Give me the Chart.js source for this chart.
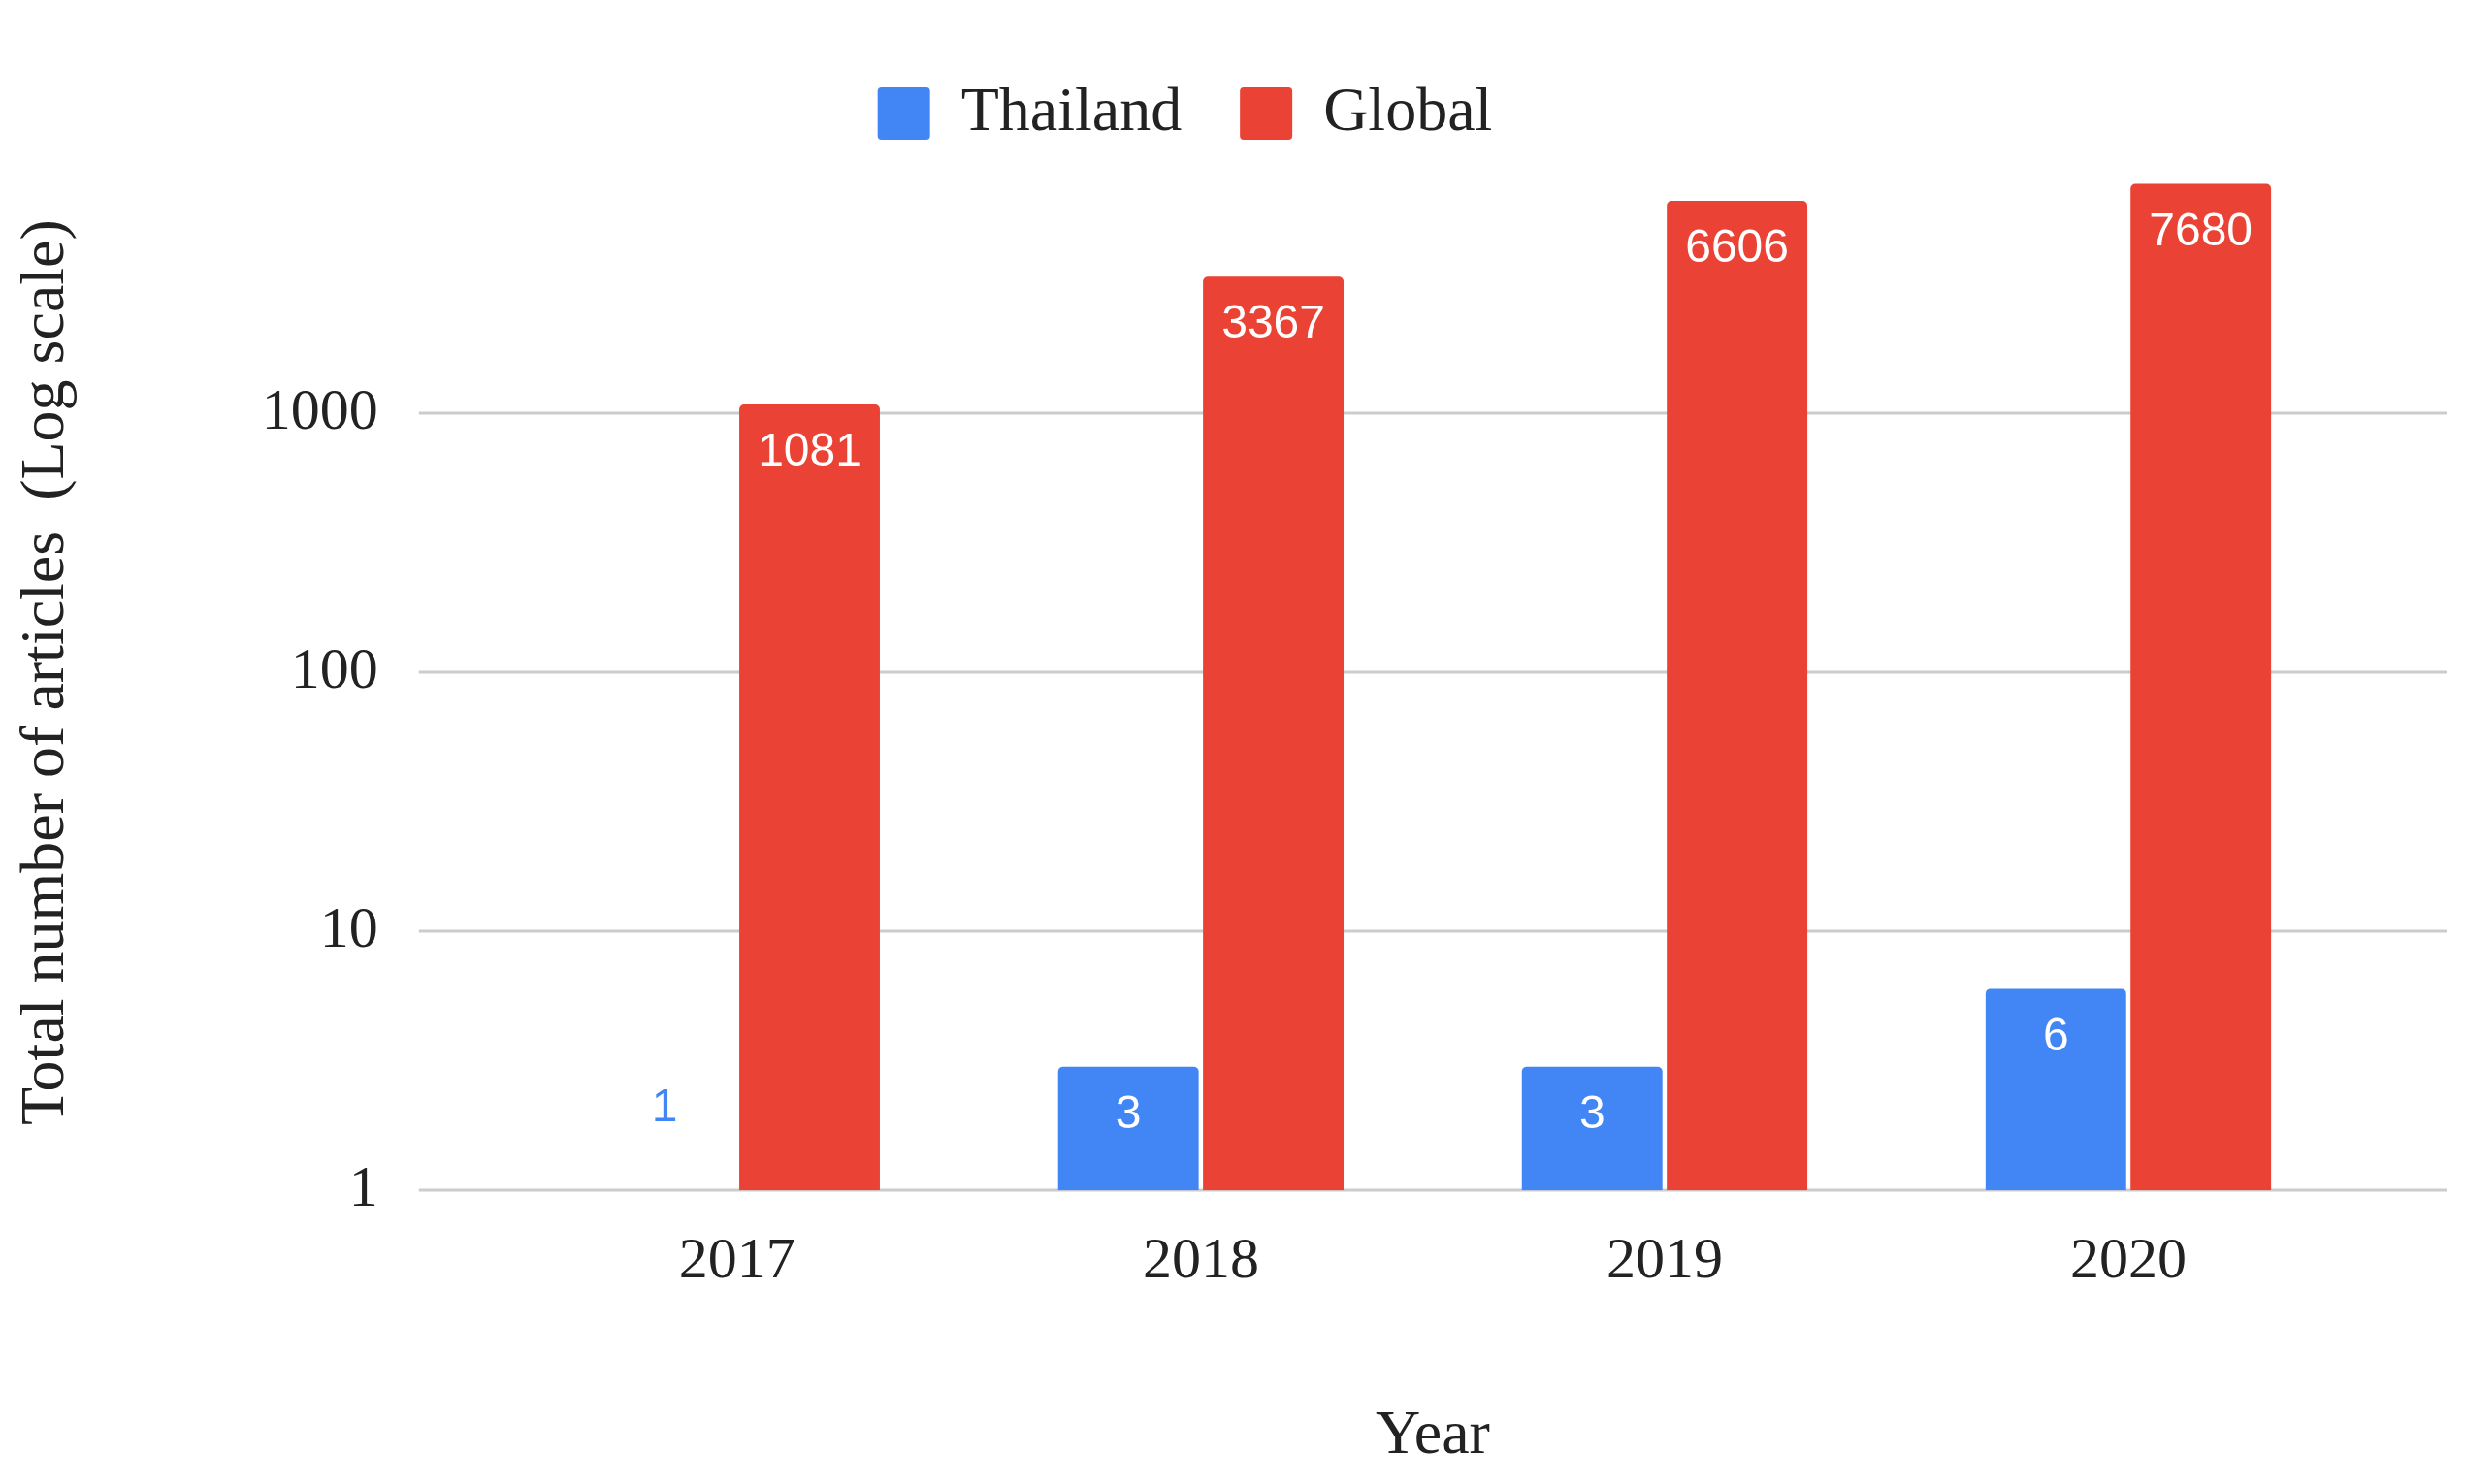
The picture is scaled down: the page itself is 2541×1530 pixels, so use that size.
<!DOCTYPE html>
<html>
<head>
<meta charset="utf-8">
<script src="https://cdn.jsdelivr.net/npm/chart.js@4"></script>
<style>
  html, body { margin: 0; padding: 0; background: #fff; }
  #wrap { width: 2541px; height: 1530px; }
</style>
</head>
<body>
<div id="wrap"><canvas id="barChart"></canvas></div>
<script>
const years = ["2017", "2018", "2019", "2020"];
const thailand = [1, 3, 3, 6];
const global = [1081, 3367, 6606, 7680];
const yTicks = [1, 10, 100, 1000];

const serif = "'Liberation Serif', 'Times New Roman', serif";

// horizontal grid lines reach a little past the bars on both sides
const wideGrid = {
  id: "wideGrid",
  beforeDatasetsDraw(chart) {
    const ctx = chart.ctx;
    const area = chart.chartArea;
    const y = chart.scales.y;
    ctx.save();
    ctx.strokeStyle = "#cccccc";
    ctx.lineWidth = 3;
    yTicks.forEach((v) => {
      const py = Math.round(y.getPixelForValue(v));
      ctx.beginPath();
      ctx.moveTo(area.left - 89, py);
      ctx.lineTo(area.right + 89, py);
      ctx.stroke();
    });
    ctx.restore();
  },
};

// value labels drawn near the top of each bar
const valueLabels = {
  id: "valueLabels",
  afterDatasetsDraw(chart) {
    const ctx = chart.ctx;
    ctx.save();
    ctx.font = "48px 'Liberation Sans', Arial, sans-serif";
    ctx.textAlign = "center";
    ctx.textBaseline = "middle";
    chart.data.datasets.forEach((ds, i) => {
      chart.getDatasetMeta(i).data.forEach((bar, j) => {
        const v = ds.data[j];
        if (bar.base - bar.y < 10) {
          ctx.fillStyle = ds.backgroundColor;
          ctx.fillText(v, bar.x, bar.base - 84);
        } else {
          ctx.fillStyle = "#ffffff";
          ctx.fillText(v, bar.x, bar.y + 50);
        }
      });
    });
    ctx.restore();
  },
};

const ctx = document.getElementById("barChart").getContext("2d");
new Chart(ctx, {
  type: "bar",
  data: {
    labels: years,
    datasets: [
      { label: "Thailand", data: thailand, backgroundColor: "#4285f4", borderRadius: 5, borderSkipped: "bottom" },
      { label: "Global", data: global, backgroundColor: "#ea4335", borderRadius: 5, borderSkipped: "bottom" },
    ],
  },
  options: {
    responsive: true,
    maintainAspectRatio: false,
    animation: false,
    layout: { padding: { top: 10, right: 108, bottom: 10, left: 10 } },
    categoryPercentage: 0.625,
    barPercentage: 0.97,
    scales: {
      x: {
        grid: { display: false },
        border: { display: false },
        ticks: { color: "#222", font: { family: serif, size: 60 }, padding: 30 },
        title: {
          display: true,
          text: "Year",
          color: "#222",
          font: { family: serif, size: 64 },
          padding: { top: 76, bottom: 0 },
        },
      },
      y: {
        type: "logarithmic",
        min: 1,
        max: 10000,
        afterBuildTicks: (axis) => {
          axis.ticks = yTicks.concat([10000]).map((v) => ({ value: v }));
        },
        grid: { display: false },
        border: { display: false },
        ticks: {
          color: "#222",
          font: { family: serif, size: 60 },
          padding: 123,
          callback: (v) => (v === 10000 ? "" : String(v)),
        },
        title: {
          display: true,
          text: "Total number of articles  (Log scale)",
          color: "#222",
          font: { family: serif, size: 64 },
          padding: { top: 0, bottom: 60 },
        },
      },
    },
    plugins: {
      legend: {
        position: "top",
        labels: {
          color: "#222",
          font: { family: serif, size: 64 },
          boxWidth: 54,
          boxHeight: 54,
          padding: 60,
          useBorderRadius: true,
          borderRadius: 4,
        },
      },
      tooltip: { enabled: false },
    },
  },
  plugins: [wideGrid, valueLabels],
});
</script>
</body>
</html>
